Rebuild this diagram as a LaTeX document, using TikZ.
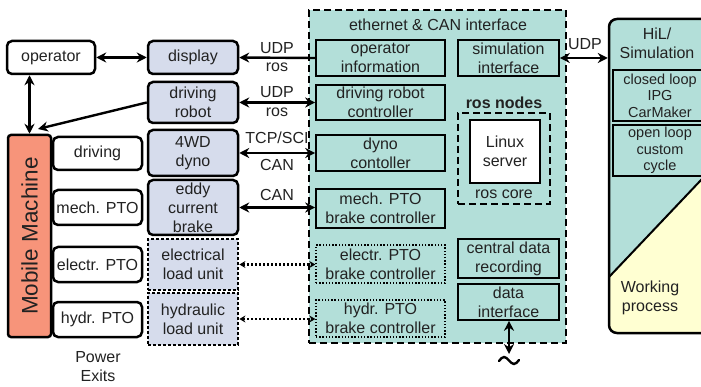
\documentclass[tikz,border=0pt]{standalone}
\usepackage{fontspec}
\setmainfont{Liberation Sans}
\usetikzlibrary{arrows.meta}

\definecolor{bluegrey}{HTML}{D6DCEC}
\definecolor{tealfill}{HTML}{B3DFD9}
\definecolor{machine}{HTML}{F7947A}
\definecolor{workfill}{HTML}{FFFFD2}
\definecolor{txt}{HTML}{222222}

\tikzset{
  base/.style={font=\fontsize{16}{19}\selectfont, text=txt, align=center, inner sep=0pt},
  roundbox/.style={base, draw, line width=2.5pt, rounded corners=5pt},
  whitebox/.style={roundbox, fill=white},
  unitbox/.style={roundbox, fill=bluegrey},
  loadbox/.style={base, draw, line width=2.8pt, dash pattern=on 2.6pt off 2.4pt, fill=bluegrey},
  ctrlbox/.style={base, draw, line width=1.6pt},
  dotctrl/.style={base, draw, line width=1.4pt, dash pattern=on 1.4pt off 1.8pt},
  lbl/.style={base},
  link/.style={line width=2.4pt, {Stealth[length=10pt,width=10pt]}-{Stealth[length=10pt,width=10pt]}},
  linkto/.style={line width=2.4pt, -{Stealth[length=10pt,width=10pt]}},
  dotlink/.style={line width=2.2pt, dash pattern=on 2pt off 2pt,
    {Stealth[length=6pt,width=7pt]}-{Stealth[length=6pt,width=7pt]}},
}

\begin{document}
\begin{tikzpicture}[x=1pt,y=-1pt]
\useasboundingbox (0,0) rectangle (701,387);

% ethernet & CAN interface frame
\node[draw, fill=tealfill, line width=1.7pt, dash pattern=on 7pt off 4pt,
      minimum width=257pt, minimum height=333pt, inner sep=0pt] (eth) at (437.5,176.5) {};
\node[lbl] (ethtitle) at (438,25) {ethernet \& CAN interface};

% controllers inside the interface
\node[ctrlbox, minimum width=129pt, minimum height=36pt] (opinfo) at (380.5,58) {operator\\information};
\node[ctrlbox, minimum width=101pt, minimum height=36pt] (siminf) at (508.5,58) {simulation\\interface};
\node[ctrlbox, minimum width=129pt, minimum height=35pt] (drc) at (380.5,102.5) {driving robot\\controller};
\node[ctrlbox, minimum width=129pt, minimum height=36pt] (dynoc) at (380.5,153) {dyno\\contoller};
\node[ctrlbox, minimum width=129pt, minimum height=39pt] (mechc) at (380.5,208.5) {mech. PTO\\brake controller};
\node[dotctrl, minimum width=129pt, minimum height=38pt] (elecc) at (380.5,264) {electr. PTO\\brake controller};
\node[dotctrl, minimum width=129pt, minimum height=37pt] (hydrc) at (380.5,318.5) {hydr. PTO\\brake controller};

% ros nodes group
\node[base, font=\fontsize{16}{19}\selectfont\bfseries] (roslbl) at (504,103) {ros nodes};
\node[draw, line width=1.7pt, dash pattern=on 7pt off 4pt, minimum width=92pt,
      minimum height=91pt, inner sep=0pt] (rosbox) at (504,158.5) {};
\node[ctrlbox, fill=white, line width=2pt, minimum width=70pt, minimum height=63pt] (linux) at (505,151.5) {Linux\\server};
\node[lbl] (roscore) at (504,194) {ros core};

\node[ctrlbox, minimum width=101pt, minimum height=39pt] (cdr) at (508.5,258.5) {central data\\recording};
\node[ctrlbox, minimum width=101pt, minimum height=36pt] (dataif) at (508.5,302) {data\\interface};

% test bench units
\node[whitebox, minimum width=88pt, minimum height=33pt] (operator) at (51,57.5) {operator};
\node[unitbox, minimum width=90pt, minimum height=33pt] (display) at (193,57.5) {display};
\node[unitbox, minimum width=90pt, minimum height=41pt] (robot) at (193,102.5) {driving\\robot};
\node[unitbox, minimum width=90pt, minimum height=46pt] (dyno) at (193,153) {4WD\\dyno};
\node[unitbox, minimum width=90pt, minimum height=55pt] (eddy) at (193,207.5) {eddy\\current\\brake};
\node[loadbox, minimum width=90pt, minimum height=51pt] (eload) at (193,264.5) {electrical\\load unit};
\node[loadbox, minimum width=90pt, minimum height=52pt] (hload) at (193,319) {hydraulic\\load unit};

% mobile machine and its power exits
\node[roundbox, fill=machine, rounded corners=3pt, minimum width=43pt, minimum height=202pt] (mm) at (29.5,236) {};
\node[base, rotate=90, font=\fontsize{22.5}{26}\selectfont] (mmtext) at (mm) {Mobile Machine};
\node[whitebox, minimum width=89pt, minimum height=33pt] (pdrive) at (97.5,153.5) {driving};
\node[whitebox, minimum width=89pt, minimum height=35pt] (pmech) at (97.5,207.5) {mech. PTO};
\node[whitebox, minimum width=89pt, minimum height=35pt] (pelec) at (97.5,264.5) {electr. PTO};
\node[whitebox, minimum width=89pt, minimum height=35pt] (phydr) at (97.5,319.5) {hydr. PTO};
\node[lbl] (exits) at (98,367) {Power\\Exits};

% HiL / simulation block with the working process corner
\begin{scope}
  \path[clip, rounded corners=8pt] (609,19) rectangle (713,333);
  \fill[tealfill] (600,10) rectangle (720,340);
  \fill[workfill] (600,286.5) -- (720,160) -- (720,340) -- (600,340) -- cycle;
  \draw[line width=2pt] (600,286.5) -- (720,160);
\end{scope}
\node[draw, line width=2.5pt, rounded corners=8pt, minimum width=104pt,
      minimum height=314pt, inner sep=0pt] (hil) at (661,176) {};
\node[lbl] (hiltitle) at (657,43) {HiL/\\Simulation};
\node[ctrlbox, font=\fontsize{14.5}{16.5}\selectfont, minimum width=94pt, minimum height=51pt] (closed) at (660,95.5) {closed loop\\IPG\\CarMaker};
\node[ctrlbox, font=\fontsize{14.5}{16.5}\selectfont, minimum width=94pt, minimum height=51pt] (open) at (660,150.5) {open loop\\custom\\cycle};
\node[lbl] (work) at (650,298) {Working\\process};

% connections
\draw[link] (operator.east) -- (display.west);
\draw[linkto] (opinfo.west) -- (display.east);
\draw[link] (robot.east) -- (drc.west);
\draw[link] (dyno.east) -- (dynoc.west);
\draw[link] (eddy.east) -- (eddy.east -| mechc.west);
\draw[dotlink] (eload.east) -- (eload.east -| elecc.west);
\draw[dotlink] (hload.east) -- (hload.east -| hydrc.west);
\draw[link] (mm.north |- operator.south) -- (mm.north);
\coordinate (mmentry) at (38,129);
\draw[linkto] (robot.west) -- (mmentry);
\draw[link] (siminf.east) -- (siminf.east -| hil.west);
\coordinate (dataend) at (509,354);
\draw[link] (dataif.south -| dataend) -- (dataend);
\draw[line width=2.4pt, line cap=round] (499,361) sin (504,357) cos (509,360.5) sin (514,364) cos (519,360);

% protocol labels
\node[lbl] (udp1) at (277,48) {UDP};
\node[lbl] (ros1) at (277,67) {ros};
\node[lbl] (udp2) at (277,92) {UDP};
\node[lbl] (ros2) at (277,112) {ros};
\node[lbl] (tcp) at (277,138) {TCP/SCI};
\node[lbl] (can1) at (277,165) {CAN};
\node[lbl] (can2) at (277,195) {CAN};
\node[lbl] (udp3) at (585,44) {UDP};
\end{tikzpicture}
\end{document}
